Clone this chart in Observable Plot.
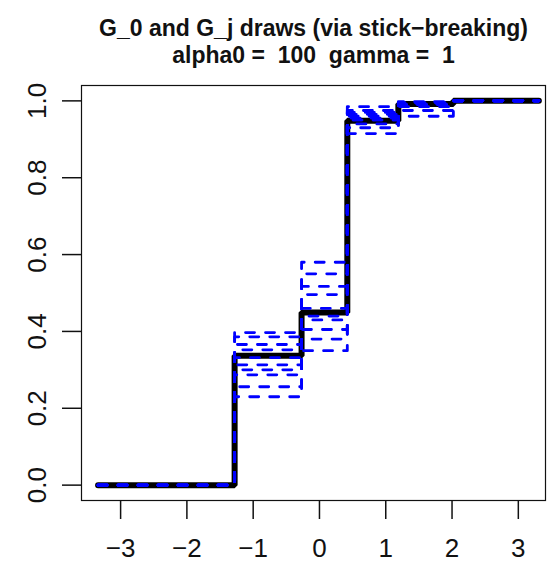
<!DOCTYPE html>
<html><head><meta charset="utf-8">
<script src="https://cdn.jsdelivr.net/npm/d3@7"></script>
<script src="https://cdn.jsdelivr.net/npm/@observablehq/plot@0.6"></script>
<style>body{margin:0;background:#fff;}</style>
</head><body><div id="chart"></div>
<script>
const title1 = "G_0 and G_j draws (via stick\u2212breaking)";
const title2 = "alpha0 =  100  gamma =  1";
// atom locations (shared jump points) and the ends of the drawn range
const jumpX = [-1.28, -0.27, 0.42, 1.19, 2.02];
const xStart = -3.34, xEnd = 3.31;
// G_0 level on each segment
const g0Levels = [0, 0.337, 0.449, 0.948, 0.992, 1.0];
// G_j levels on each segment (blue dashed)
const gjLevels = [
  [0, 0.397, 0.58, 0.985, 0.995, 1.0],
  [0, 0.386, 0.46, 0.97, 0.99, 1.0],
  [0, 0.366, 0.55, 0.95, 0.995, 1.0],
  [0, 0.352, 0.43, 0.93, 0.96, 1.0],
  [0, 0.332, 0.405, 0.96, 0.998, 1.0],
  [0, 0.313, 0.517, 0.915, 0.99, 1.0],
  [0, 0.300, 0.38, 0.975, 0.995, 1.0],
  [0, 0.287, 0.496, 0.94, 0.985, 1.0],
  [0, 0.256, 0.35, 0.965, 0.993, 1.0],
  [0, 0.230, 0.44, 0.955, 0.975, 1.0]
];
const xTicks = [-3, -2, -1, 0, 1, 2, 3];
const yTicks = [0, 0.2, 0.4, 0.6, 0.8, 1.0];

const xs = [xStart, ...jumpX, xEnd];
function stepRows(levels, series) {
  const vals = [...levels, levels[levels.length - 1]];
  return xs.map((x, i) => ({series, x, y: vals[i]}));
}
const g0Rows = stepRows(g0Levels, "G0");
const gjRows = gjLevels.flatMap((lv, j) => stepRows(lv, "G" + (j + 1)));

const font = "Arial, 'Liberation Sans', sans-serif";
const chart = Plot.plot({
  width: 550,
  height: 574,
  marginTop: 85,
  marginBottom: 74,
  marginLeft: 81,
  marginRight: 5,
  style: {fontFamily: font, background: "#fff", color: "#111"},
  x: {domain: [-3.59, 3.41], axis: null},
  y: {domain: [-0.04, 1.04], axis: null},
  marks: [
    Plot.line(g0Rows, {x: "x", y: "y", curve: "step-after", stroke: "black", strokeWidth: 6, strokeLinecap: "round", strokeLinejoin: "miter"}),
    Plot.line(gjRows, {x: "x", y: "y", z: "series", curve: "step-after", stroke: "#0000ff", strokeWidth: 2.8, strokeDasharray: "9,11", strokeLinecap: "round"}),
    Plot.frame({stroke: "#111", strokeWidth: 1.2}),
    Plot.axisX(xTicks, {anchor: "bottom", label: null, tickSize: 19, tickPadding: 19, fontSize: 26, stroke: "#111", strokeWidth: 1.5, fill: "#111"}),
    Plot.axisY(yTicks, {anchor: "left", label: null, tickSize: 19, tickFormat: () => "", stroke: "#111", strokeWidth: 1.5}),
    Plot.text(yTicks, {y: d => d, text: d => d.toFixed(1), frameAnchor: "left", dx: -44, rotate: -90, textAnchor: "middle", fontSize: 26, fill: "#111"}),
    Plot.text([title1], {frameAnchor: "top", dy: -66, fontSize: 23, fontWeight: "bold", fill: "#111"}),
    Plot.text([title2], {frameAnchor: "top", dy: -39, fontSize: 23, fontWeight: "bold", fill: "#111"})
  ]
});
document.getElementById("chart").appendChild(chart);
</script>
</body></html>
